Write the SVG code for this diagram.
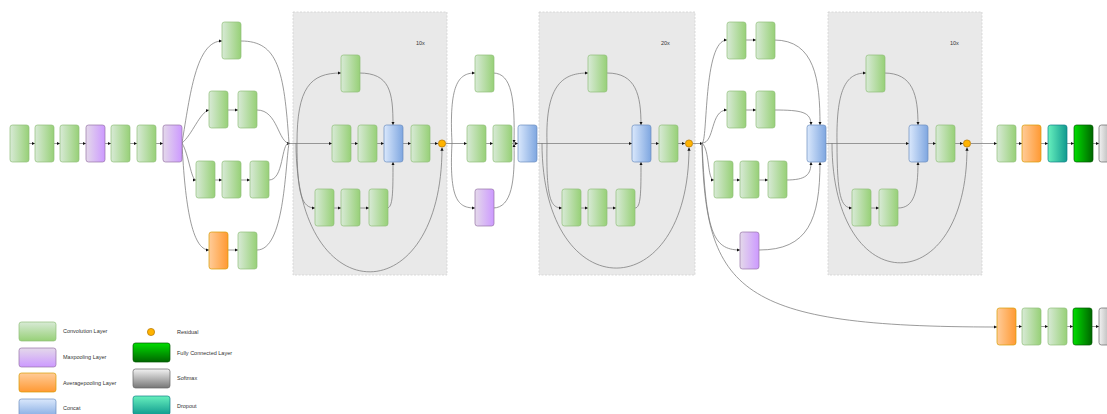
<svg xmlns="http://www.w3.org/2000/svg" width="1107" height="414" viewBox="0 0 1107 414">
  <defs>
    <linearGradient id="gConv" x1="0" y1="0" x2="1" y2="0"><stop offset="0" stop-color="#d8ead6"/><stop offset="1" stop-color="#97d077"/></linearGradient>
    <linearGradient id="gMax" x1="0" y1="0" x2="1" y2="0"><stop offset="0" stop-color="#e4d9ea"/><stop offset="1" stop-color="#cc99ff"/></linearGradient>
    <linearGradient id="gAvg" x1="0" y1="0" x2="1" y2="0"><stop offset="0" stop-color="#ffcc99"/><stop offset="1" stop-color="#ff9933"/></linearGradient>
    <linearGradient id="gCat" x1="0" y1="0" x2="1" y2="0"><stop offset="0" stop-color="#dae8fc"/><stop offset="1" stop-color="#7ea6e0"/></linearGradient>
    <linearGradient id="gDrop" x1="0" y1="0" x2="1" y2="0"><stop offset="0" stop-color="#67f0bd"/><stop offset="1" stop-color="#109a8f"/></linearGradient>
    <linearGradient id="gFc" x1="0" y1="0" x2="1" y2="0"><stop offset="0" stop-color="#00dd00"/><stop offset="1" stop-color="#006600"/></linearGradient>
    <linearGradient id="gSoft" x1="0" y1="0" x2="1" y2="0"><stop offset="0" stop-color="#f2f2f2"/><stop offset="1" stop-color="#8a8a8a"/></linearGradient>
    <!-- legend swatches shade top to bottom -->
    <linearGradient id="lConv" x1="0" y1="0" x2="0" y2="1"><stop offset="0" stop-color="#d8ead6"/><stop offset="1" stop-color="#97d077"/></linearGradient>
    <linearGradient id="lMax" x1="0" y1="0" x2="0" y2="1"><stop offset="0" stop-color="#e4d9ea"/><stop offset="1" stop-color="#cc99ff"/></linearGradient>
    <linearGradient id="lAvg" x1="0" y1="0" x2="0" y2="1"><stop offset="0" stop-color="#ffcc99"/><stop offset="1" stop-color="#ff9933"/></linearGradient>
    <linearGradient id="lCat" x1="0" y1="0" x2="0" y2="1"><stop offset="0" stop-color="#dae8fc"/><stop offset="1" stop-color="#7ea6e0"/></linearGradient>
    <linearGradient id="lDrop" x1="0" y1="0" x2="0" y2="1"><stop offset="0" stop-color="#67f0bd"/><stop offset="1" stop-color="#109a8f"/></linearGradient>
    <linearGradient id="lFc" x1="0" y1="0" x2="0" y2="1"><stop offset="0" stop-color="#00dd00"/><stop offset="1" stop-color="#006600"/></linearGradient>
    <linearGradient id="lSoft" x1="0" y1="0" x2="0" y2="1"><stop offset="0" stop-color="#f2f2f2"/><stop offset="1" stop-color="#777777"/></linearGradient>
    <marker id="arr" viewBox="0 0 6 6" refX="6" refY="3" markerWidth="3.2" markerHeight="3.2" markerUnits="userSpaceOnUse" orient="auto">
      <path d="M0,0 L6,3 L0,6 z" fill="#111"/>
    </marker>
  </defs>
  <style>
    rect.n { stroke-width: 0.7; }
    .conv { fill: url(#gConv); stroke: #8fbf78; }
    .max { fill: url(#gMax); stroke: #9673a6; }
    .avg { fill: url(#gAvg); stroke: #d79b00; }
    .cat { fill: url(#gCat); stroke: #6c8ebf; }
    .drop { fill: url(#gDrop); stroke: #0e8088; }
    .fc { fill: url(#gFc); stroke: #005700; }
    .soft { fill: url(#gSoft); stroke: #666666; }
    .lconv { fill: url(#lConv); stroke: #8fbf78; }
    .lmax { fill: url(#lMax); stroke: #9673a6; }
    .lavg { fill: url(#lAvg); stroke: #d79b00; }
    .lcat { fill: url(#lCat); stroke: #6c8ebf; }
    .ldrop { fill: url(#lDrop); stroke: #0e8088; }
    .lfc { fill: url(#lFc); stroke: #005700; }
    .lsoft { fill: url(#lSoft); stroke: #666666; }
    .grp { fill: #e9e9e9; stroke: #d2d2d2; stroke-width: 0.8; stroke-dasharray: 2 1.5; }
    .res { fill: #ffb300; stroke: #b37400; stroke-width: 0.7; }
    #connectors path { fill: none; stroke: #7a7a7a; stroke-width: 0.75; }
    #connectors path.a { marker-end: url(#arr); }
    text { font-family: "Liberation Sans", Arial, sans-serif; font-size: 5.5px; fill: #333; }
  </style>

  <!-- repeated block containers -->
  <g id="blockA">
    <rect class="grp" x="293" y="12" width="154" height="263"/>
    <text x="416" y="45">10x</text>
  </g>
  <g id="blockB">
    <rect class="grp" x="539" y="12" width="156" height="263"/>
    <text x="661" y="45">20x</text>
  </g>
  <g id="blockC">
    <rect class="grp" x="828" y="12" width="154" height="263"/>
    <text x="950" y="45">10x</text>
  </g>

  <g id="connectors">
    <!-- stem -->
    <path class="a" d="M29,143.5 H35"/>
    <path class="a" d="M54,143.5 H60"/>
    <path class="a" d="M79,143.5 H86"/>
    <path class="a" d="M105,143.5 H111"/>
    <path class="a" d="M130,143.5 H137"/>
    <path class="a" d="M156,143.5 H163"/>
    <!-- mixed 5b branches -->
    <path class="a" d="M182,143 C190,95 196,41 222,41"/>
    <path class="a" d="M182,143 C192,135 200,112 209,110"/>
    <path class="a" d="M182,143 C189,155 191,180 196,180"/>
    <path class="a" d="M182,143 C185,205 192,250 209,250"/>
    <path class="a" d="M228,110 H238"/>
    <path class="a" d="M215,180 H222"/>
    <path class="a" d="M241,180 H250"/>
    <path class="a" d="M228,250 H238"/>
    <path d="M241,41 C278,41 284,70 289,143"/>
    <path class="a" d="M257,110 C278,110 278,143.5 290,143.5"/>
    <path d="M269,180 C284,180 281,143 289,143"/>
    <path d="M257,250 C284,250 285,170 289,143"/>
    <!-- block A (x10) -->
    <path class="a" d="M289,143.5 H332"/>
    <path class="a" d="M297,143 C297,88 310,73 341,73"/>
    <path class="a" d="M297,143 C297,195 302,208 315,208"/>
    <path class="a" d="M296,143 C296,314 442,314 442,147.5"/>
    <path class="a" d="M359,73 C390,73 393,92 393,125"/>
    <path class="a" d="M351,143.5 H358"/>
    <path class="a" d="M377,143.5 H384"/>
    <path class="a" d="M403,143.5 H411"/>
    <path class="a" d="M430,143.5 H438"/>
    <path class="a" d="M333,208 H341"/>
    <path class="a" d="M360,208 H369"/>
    <path class="a" d="M387,208 C393,208 393,192 393,162"/>
    <!-- reduction A -->
    <path class="a" d="M446,143.5 H467"/>
    <path class="a" d="M452,143 C449,85 458,73 475,73"/>
    <path class="a" d="M452,143 C449,200 458,208 475,208"/>
    <path class="a" d="M486,143.5 H493"/>
    <path class="a" d="M512,143.5 H518"/>
    <path class="a" d="M493,73 C512,73 515,100 514,143"/>
    <path class="a" d="M493,208 C512,208 515,180 514,144"/>
    <!-- block B (x20) -->
    <path class="a" d="M537,143.5 H632"/>
    <path class="a" d="M547,143 C545,82 565,73 588,73"/>
    <path class="a" d="M547,143 C546,200 551,208 562,208"/>
    <path class="a" d="M542,143 C542,309 689,309 689,147.5"/>
    <path class="a" d="M607,73 C636,73 641,95 641,125"/>
    <path class="a" d="M581,208 H588"/>
    <path class="a" d="M607,208 H616"/>
    <path class="a" d="M635,208 C641,208 641,192 641,162"/>
    <path class="a" d="M651,143.5 H659"/>
    <path class="a" d="M678,143.5 H685"/>
    <!-- reduction B -->
    <path class="a" d="M693,143.5 H703"/>
    <path class="a" d="M702,143 C708,143 703,40 727,40"/>
    <path class="a" d="M702,143 C715,143 710,110 727,110"/>
    <path class="a" d="M702,143 C710,150 707,180 714,180"/>
    <path class="a" d="M702,143 C706,230 712,250 740,250"/>
    <path class="a" d="M746,40 H756"/>
    <path class="a" d="M746,110 H756"/>
    <path class="a" d="M733,180 H740"/>
    <path class="a" d="M759,180 H768"/>
    <path class="a" d="M774,40 C815,40 820,80 820,125"/>
    <path class="a" d="M774,110 C802,110 811,112 811,125"/>
    <path class="a" d="M786,180 C806,180 811,175 811,162"/>
    <path class="a" d="M759,250 C808,250 820,220 820,162"/>
    <!-- auxiliary classifier -->
    <path class="a" d="M702,143 C705,292 738,327 997,327"/>
    <!-- block C (x10) -->
    <path class="a" d="M825,143.5 H909"/>
    <path class="a" d="M837,143 C836,85 848,73 866,73"/>
    <path class="a" d="M837,143 C837,196 841,208 852,208"/>
    <path class="a" d="M832,143 C832,302 967,302 967,147.5"/>
    <path class="a" d="M884,73 C913,73 918,95 918,125"/>
    <path class="a" d="M871,208 H879"/>
    <path class="a" d="M898,208 C914,208 918,192 918,162"/>
    <path class="a" d="M928,143.5 H936"/>
    <path class="a" d="M955,143.5 H963"/>
    <!-- head -->
    <path class="a" d="M971,143.5 H997"/>
    <path class="a" d="M1016,143.5 H1022"/>
    <path class="a" d="M1041,143.5 H1048"/>
    <path class="a" d="M1067,143.5 H1074"/>
    <path class="a" d="M1093,143.5 H1099"/>
    <path class="a" d="M1016,326.5 H1022"/>
    <path class="a" d="M1041,326.5 H1048"/>
    <path class="a" d="M1067,326.5 H1073"/>
    <path class="a" d="M1092,326.5 H1099"/>
  </g>

  <!-- stem -->
  <g id="stem1"><rect class="n conv" x="10" y="125" width="19" height="37" rx="2.5"/></g>
  <g id="stem2"><rect class="n conv" x="35" y="125" width="19" height="37" rx="2.5"/></g>
  <g id="stem3"><rect class="n conv" x="60" y="125" width="19" height="37" rx="2.5"/></g>
  <g id="stem4"><rect class="n max" x="86" y="125" width="19" height="37" rx="2.5"/></g>
  <g id="stem5"><rect class="n conv" x="111" y="125" width="19" height="37" rx="2.5"/></g>
  <g id="stem6"><rect class="n conv" x="137" y="125" width="19" height="37" rx="2.5"/></g>
  <g id="stem7"><rect class="n max" x="163" y="125" width="19" height="37" rx="2.5"/></g>

  <!-- mixed 5b -->
  <g id="m5b_b1"><rect class="n conv" x="222" y="22" width="19" height="37" rx="2.5"/></g>
  <g id="m5b_b2a"><rect class="n conv" x="209" y="91" width="19" height="37" rx="2.5"/></g>
  <g id="m5b_b2b"><rect class="n conv" x="238" y="91" width="19" height="37" rx="2.5"/></g>
  <g id="m5b_b3a"><rect class="n conv" x="196" y="161" width="19" height="37" rx="2.5"/></g>
  <g id="m5b_b3b"><rect class="n conv" x="222" y="161" width="19" height="37" rx="2.5"/></g>
  <g id="m5b_b3c"><rect class="n conv" x="250" y="161" width="19" height="37" rx="2.5"/></g>
  <g id="m5b_b4a"><rect class="n avg" x="209" y="232" width="19" height="37" rx="2.5"/></g>
  <g id="m5b_b4b"><rect class="n conv" x="238" y="232" width="19" height="37" rx="2.5"/></g>

  <!-- block A -->
  <g id="a_b1"><rect class="n conv" x="341" y="55" width="19" height="37" rx="2.5"/></g>
  <g id="a_m1"><rect class="n conv" x="332" y="125" width="19" height="37" rx="2.5"/></g>
  <g id="a_m2"><rect class="n conv" x="358" y="125" width="19" height="37" rx="2.5"/></g>
  <g id="a_cat"><rect class="n cat" x="384" y="125" width="19" height="37" rx="2.5"/></g>
  <g id="a_out"><rect class="n conv" x="411" y="125" width="19" height="37" rx="2.5"/></g>
  <g id="a_l1"><rect class="n conv" x="315" y="189" width="19" height="37" rx="2.5"/></g>
  <g id="a_l2"><rect class="n conv" x="341" y="189" width="19" height="37" rx="2.5"/></g>
  <g id="a_l3"><rect class="n conv" x="369" y="189" width="19" height="37" rx="2.5"/></g>
  <g id="a_res"><circle class="res" cx="442" cy="143.5" r="3.6"/></g>

  <!-- reduction A -->
  <g id="ra_top"><rect class="n conv" x="475" y="55" width="19" height="37" rx="2.5"/></g>
  <g id="ra_m1"><rect class="n conv" x="467" y="125" width="19" height="37" rx="2.5"/></g>
  <g id="ra_m2"><rect class="n conv" x="493" y="125" width="19" height="37" rx="2.5"/></g>
  <g id="ra_pool"><rect class="n max" x="475" y="189" width="19" height="37" rx="2.5"/></g>
  <g id="ra_cat"><rect class="n cat" x="518" y="125" width="19" height="37" rx="2.5"/></g>

  <!-- block B -->
  <g id="b_b1"><rect class="n conv" x="588" y="55" width="19" height="37" rx="2.5"/></g>
  <g id="b_l1"><rect class="n conv" x="562" y="189" width="19" height="37" rx="2.5"/></g>
  <g id="b_l2"><rect class="n conv" x="588" y="189" width="19" height="37" rx="2.5"/></g>
  <g id="b_l3"><rect class="n conv" x="616" y="189" width="19" height="37" rx="2.5"/></g>
  <g id="b_cat"><rect class="n cat" x="632" y="125" width="19" height="37" rx="2.5"/></g>
  <g id="b_out"><rect class="n conv" x="659" y="125" width="19" height="37" rx="2.5"/></g>
  <g id="b_res"><circle class="res" cx="689" cy="143.5" r="3.6"/></g>

  <!-- reduction B -->
  <g id="rb_1a"><rect class="n conv" x="727" y="22" width="19" height="37" rx="2.5"/></g>
  <g id="rb_1b"><rect class="n conv" x="756" y="22" width="19" height="37" rx="2.5"/></g>
  <g id="rb_2a"><rect class="n conv" x="727" y="91" width="19" height="37" rx="2.5"/></g>
  <g id="rb_2b"><rect class="n conv" x="756" y="91" width="19" height="37" rx="2.5"/></g>
  <g id="rb_3a"><rect class="n conv" x="714" y="161" width="19" height="37" rx="2.5"/></g>
  <g id="rb_3b"><rect class="n conv" x="740" y="161" width="19" height="37" rx="2.5"/></g>
  <g id="rb_3c"><rect class="n conv" x="768" y="161" width="19" height="37" rx="2.5"/></g>
  <g id="rb_pool"><rect class="n max" x="740" y="232" width="19" height="37" rx="2.5"/></g>
  <g id="rb_cat"><rect class="n cat" x="807" y="125" width="19" height="37" rx="2.5"/></g>

  <!-- block C -->
  <g id="c_b1"><rect class="n conv" x="866" y="55" width="19" height="37" rx="2.5"/></g>
  <g id="c_l1"><rect class="n conv" x="852" y="189" width="19" height="37" rx="2.5"/></g>
  <g id="c_l2"><rect class="n conv" x="879" y="189" width="19" height="37" rx="2.5"/></g>
  <g id="c_cat"><rect class="n cat" x="909" y="125" width="19" height="37" rx="2.5"/></g>
  <g id="c_out"><rect class="n conv" x="936" y="125" width="19" height="37" rx="2.5"/></g>
  <g id="c_res"><circle class="res" cx="967" cy="143.5" r="3.6"/></g>

  <!-- head -->
  <g id="h_conv"><rect class="n conv" x="997" y="125" width="19" height="37" rx="2.5"/></g>
  <g id="h_pool"><rect class="n avg" x="1022" y="125" width="19" height="37" rx="2.5"/></g>
  <g id="h_drop"><rect class="n drop" x="1048" y="125" width="19" height="37" rx="2.5"/></g>
  <g id="h_fc"><rect class="n fc" x="1074" y="125" width="19" height="37" rx="2.5"/></g>
  <g id="h_soft"><rect class="n soft" x="1099" y="125" width="19" height="37" rx="2.5"/></g>

  <!-- auxiliary head -->
  <g id="x_pool"><rect class="n avg" x="997" y="308" width="19" height="37" rx="2.5"/></g>
  <g id="x_conv1"><rect class="n conv" x="1022" y="308" width="19" height="37" rx="2.5"/></g>
  <g id="x_conv2"><rect class="n conv" x="1048" y="308" width="19" height="37" rx="2.5"/></g>
  <g id="x_fc"><rect class="n fc" x="1073" y="308" width="19" height="37" rx="2.5"/></g>
  <g id="x_soft"><rect class="n soft" x="1099" y="308" width="19" height="37" rx="2.5"/></g>

  <!-- legend -->
  <g id="legend">
    <rect class="n lconv" x="19" y="322" width="37" height="19" rx="2.5"/>
    <text x="63" y="333">Convolution Layer</text>
    <rect class="n lmax" x="19" y="348" width="37" height="19" rx="2.5"/>
    <text x="63" y="359">Maxpooling Layer</text>
    <rect class="n lavg" x="19" y="373" width="37" height="19" rx="2.5"/>
    <text x="63" y="385">Averagepooling Layer</text>
    <rect class="n lcat" x="19" y="399" width="37" height="19" rx="2.5"/>
    <text x="63" y="410">Concat</text>
    <circle class="res" cx="151" cy="332" r="3.6"/>
    <text x="177" y="334">Residual</text>
    <rect class="n lfc" x="133" y="343" width="37" height="19" rx="2.5"/>
    <text x="177" y="355">Fully Connected Layer</text>
    <rect class="n lsoft" x="133" y="369" width="37" height="19" rx="2.5"/>
    <text x="177" y="380">Softmax</text>
    <rect class="n ldrop" x="133" y="396" width="37" height="19" rx="2.5"/>
    <text x="177" y="408">Dropout</text>
  </g>
</svg>
